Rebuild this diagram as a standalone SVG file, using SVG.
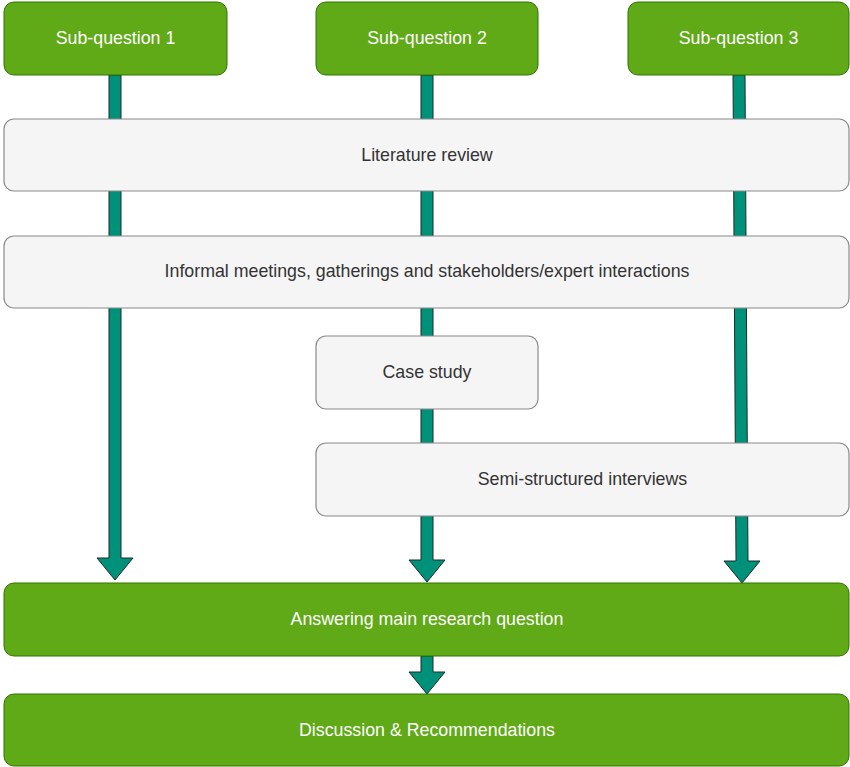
<svg xmlns="http://www.w3.org/2000/svg" width="850" height="767" viewBox="0 0 850 767">
<style>
.g{fill:#60a917;stroke:#2d7600;stroke-width:1}
.l{fill:#f5f5f5;stroke:#8a8a8a;stroke-width:1.2}
.a{fill:#00917a;stroke:#1e2b27;stroke-width:1;stroke-linejoin:miter}
text{font-family:"Liberation Sans",Arial,sans-serif;font-size:17.8px;text-anchor:middle;dominant-baseline:central}
.gt{fill:#ffffff}
.lt{fill:#333333}
</style>
<rect width="850" height="767" fill="#ffffff"/>
<g id="connectors">
<polygon class="a" points="109,75 121,75 121,558 133,558 115,580 97,558 109,558"/>
<polygon class="a" points="421,75 433,75 433,560 445,560 427,582 409,560 421,560"/>
<polygon class="a" points="733,75 745,75 748,561 760,561 742,583 724,561 736,561"/>
<polygon class="a" points="421,656 433,656 433,672 445,672 427,694 409,672 421,672"/>
</g>
<g id="sq1"><rect class="g" x="4" y="2" width="223" height="73" rx="10"/><text class="gt" x="115.5" y="38">Sub-question 1</text></g>
<g id="sq2"><rect class="g" x="316" y="2" width="222" height="73" rx="10"/><text class="gt" x="427" y="38">Sub-question 2</text></g>
<g id="sq3"><rect class="g" x="628" y="2" width="221" height="73" rx="10"/><text class="gt" x="738.5" y="38">Sub-question 3</text></g>
<g id="lit"><rect class="l" x="4" y="119" width="845" height="72" rx="10"/><text class="lt" x="427" y="154.5">Literature review</text></g>
<g id="informal"><rect class="l" x="4" y="236" width="845" height="72" rx="10"/><text class="lt" x="427" y="270.5">Informal meetings, gatherings and stakeholders/expert interactions</text></g>
<g id="case"><rect class="l" x="316" y="336" width="222" height="73" rx="10"/><text class="lt" x="427" y="371.5">Case study</text></g>
<g id="semi"><rect class="l" x="316" y="443" width="533" height="73" rx="10"/><text class="lt" x="582.5" y="478.5">Semi-structured interviews</text></g>
<g id="answer"><rect class="g" x="4" y="583" width="845" height="73" rx="10"/><text class="gt" x="427" y="619">Answering main research question</text></g>
<g id="discussion"><rect class="g" x="4" y="694" width="845" height="72" rx="10"/><text class="gt" x="427" y="729.5">Discussion &amp; Recommendations</text></g>
</svg>
